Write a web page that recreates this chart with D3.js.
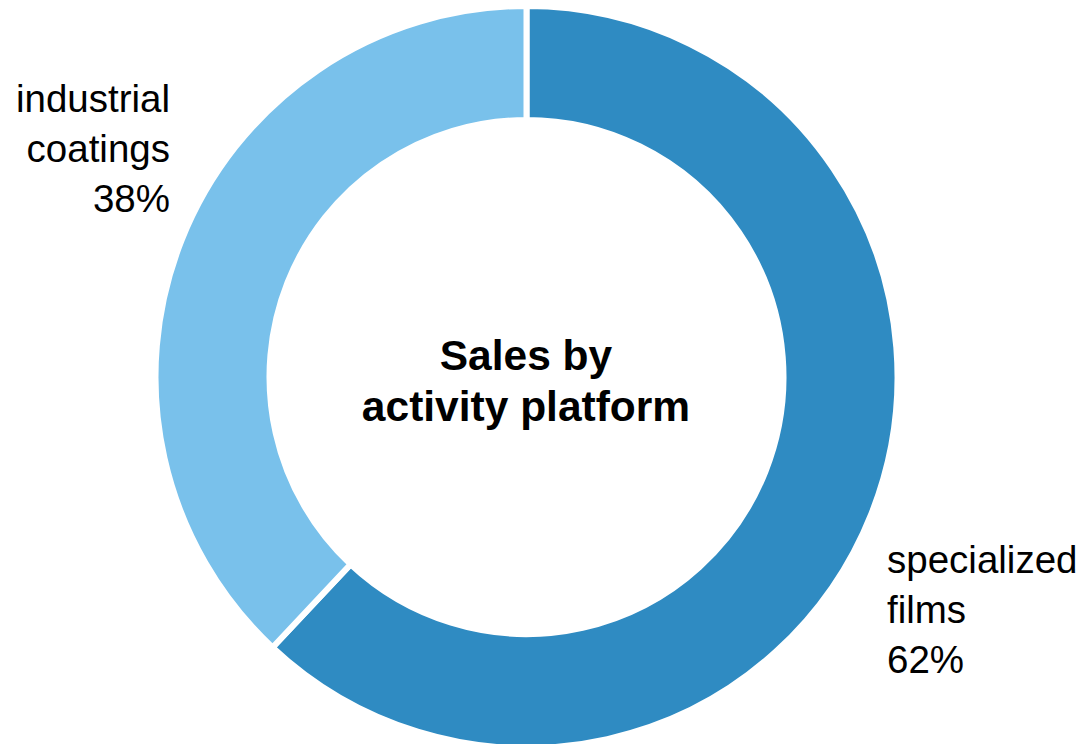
<!DOCTYPE html>
<html>
<head>
<meta charset="utf-8">
<script src="https://cdn.jsdelivr.net/npm/d3@7"></script>
<style>
  html, body { margin: 0; padding: 0; background: #fff; }
  svg { display: block; }
  text { font-family: "Liberation Sans", Arial, sans-serif; fill: #000; }
</style>
</head>
<body>
<svg id="chart" width="1085" height="744"></svg>
<script>
// Sales split by activity platform
const categories = ["specialized films", "industrial coatings"];
const shares = [62, 38];
const labelLines = [["specialized", "films", "62%"], ["industrial", "coatings", "38%"]];
const colors = ["#2F8BC2", "#79C1EB"];
const title = ["Sales by", "activity platform"];

const width = 1085, height = 744;
const cx = 526.5, cy = 377;
// radii include the half of the white separator stroke that overlaps the edges
const outerR = 371, innerR = 257;

const svg = d3.select("#chart");
const g = svg.append("g").attr("transform", `translate(${cx},${cy})`);

const pie = d3.pie().sort(null).value(d => d)(shares);
const arc = d3.arc().innerRadius(innerR).outerRadius(outerR);

g.selectAll("path.slice")
  .data(pie)
  .join("path")
  .attr("class", "slice")
  .attr("d", arc)
  .attr("fill", (d, i) => colors[i])
  .attr("stroke", "#fff")
  .attr("stroke-width", 6)
  .attr("stroke-linejoin", "miter");

// Outside labels
const labelPos = [
  { x: 887, y: 573, anchor: "start" },
  { x: 170, y: 112, anchor: "end" }
];
const lineH = 50;
labelLines.forEach((lines, i) => {
  const t = svg.append("text")
    .attr("x", labelPos[i].x)
    .attr("y", labelPos[i].y)
    .attr("text-anchor", labelPos[i].anchor)
    .style("font-size", "38.5px");
  lines.forEach((ln, j) => {
    t.append("tspan")
      .attr("x", labelPos[i].x)
      .attr("y", labelPos[i].y + j * lineH)
      .text(ln);
  });
});

// Centre title
const tt = svg.append("text")
  .attr("text-anchor", "middle")
  .style("font-size", "42.5px")
  .style("font-weight", "bold");
title.forEach((ln, j) => {
  tt.append("tspan")
    .attr("x", 526)
    .attr("y", 370 + j * 51)
    .text(ln);
});
</script>
</body>
</html>
